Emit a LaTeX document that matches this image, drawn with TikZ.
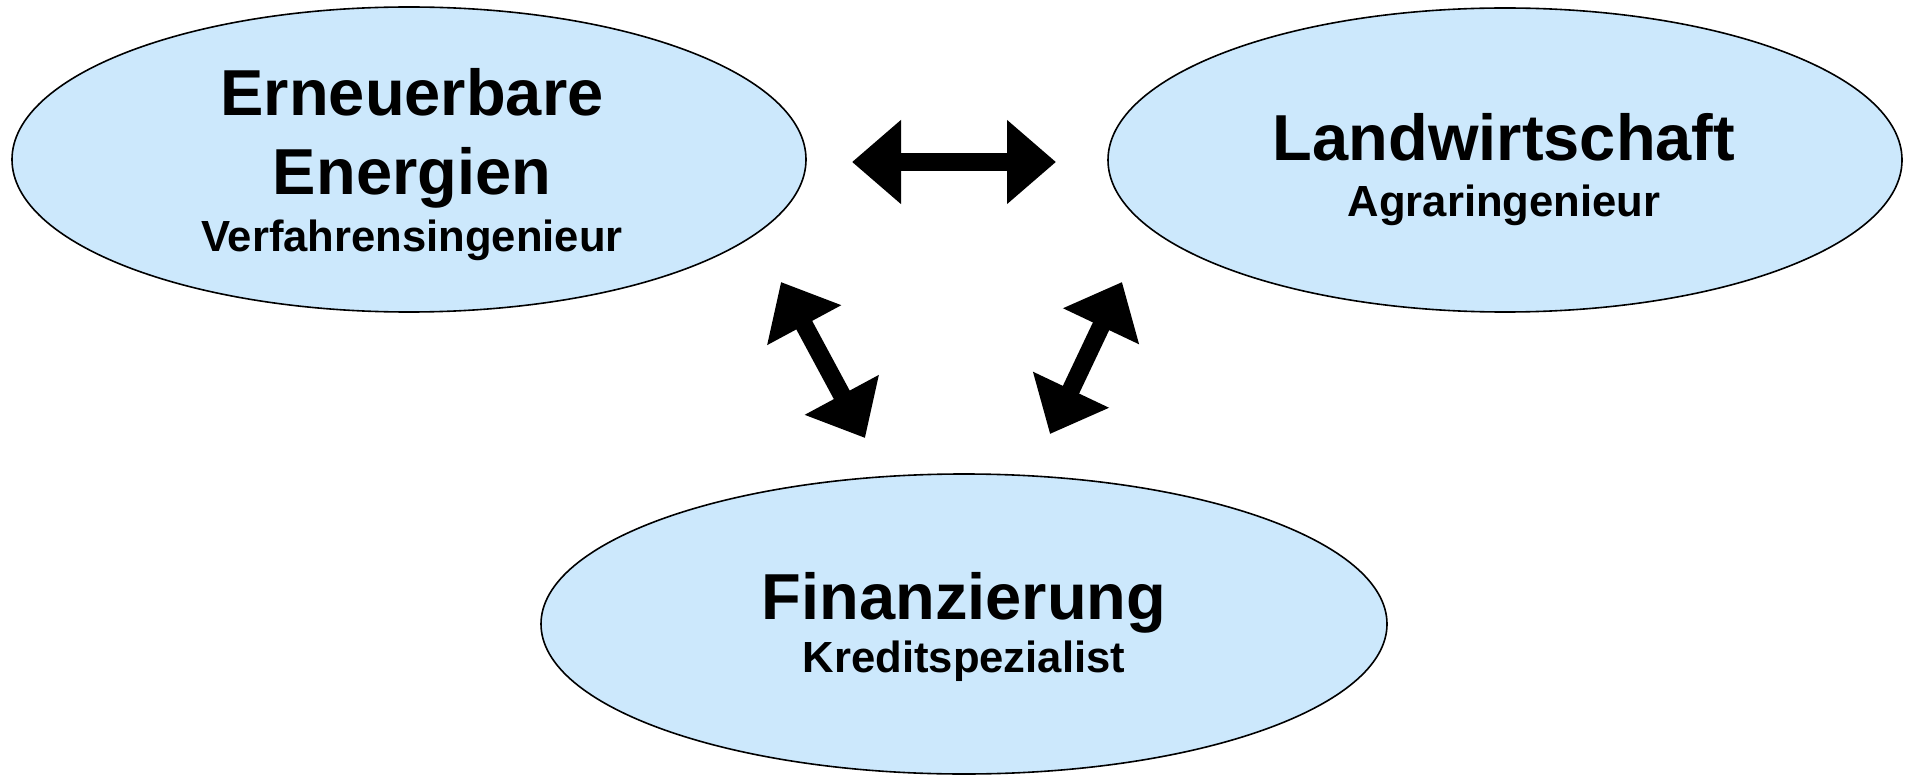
\documentclass[tikz,border=0pt]{standalone}
\usepackage{fontspec}
\setmainfont{Liberation Sans}
\usetikzlibrary{shapes.geometric,arrows.meta}
\definecolor{ellfill}{RGB}{204,232,252}
\begin{document}
\begin{tikzpicture}[x=0.5pt,y=-0.5pt,
  bubble/.style={ellipse,draw=black,line width=0.8pt,fill=ellfill,inner sep=0pt},
  bigtxt/.style={anchor=base,font=\fontsize{32.5pt}{39pt}\selectfont\bfseries,inner sep=0pt},
  smalltxt/.style={anchor=base,font=\fontsize{21.8pt}{26pt}\selectfont\bfseries,inner sep=0pt},
  tipshape/.style={},
  dblarrow/.style={line width=9pt,{Triangle[length=24.5pt,width=40.5pt]}-{Triangle[length=24.5pt,width=40.5pt]}}]
\useasboundingbox (0,0) rectangle (1910,775);
\node[bubble,minimum width=397pt,minimum height=152.5pt] (ee) at (409,159.5) {};
\node[bubble,minimum width=397pt,minimum height=152pt] (lw) at (1505,160) {};
\node[bubble,minimum width=423pt,minimum height=150pt] (fi) at (964,624) {};
\node[bigtxt] (t1) at (412,116) {Erneuerbare};
\node[bigtxt] (t2) at (412,195) {Energien};
\node[smalltxt] (t3) at (412,251) {Verfahrensingenieur};
\node[bigtxt] (t4) at (1504,161) {Landwirtschaft};
\node[smalltxt] (t5) at (1504,217) {Agraringenieur};
\node[bigtxt] (t6) at (964,619) {Finanzierung};
\node[smalltxt] (t7) at (964,672) {Kreditspezialist};
\coordinate (h1) at (852,162);
\coordinate (h2) at (1056,162);
\coordinate (l1) at (781,282);
\coordinate (l2) at (865,438);
\coordinate (r1) at (1122,282);
\coordinate (r2) at (1050,434);
\draw[dblarrow] (h1) -- (h2);
\draw[dblarrow] (l1) -- (l2);
\draw[dblarrow] (r1) -- (r2);
\end{tikzpicture}
\end{document}
